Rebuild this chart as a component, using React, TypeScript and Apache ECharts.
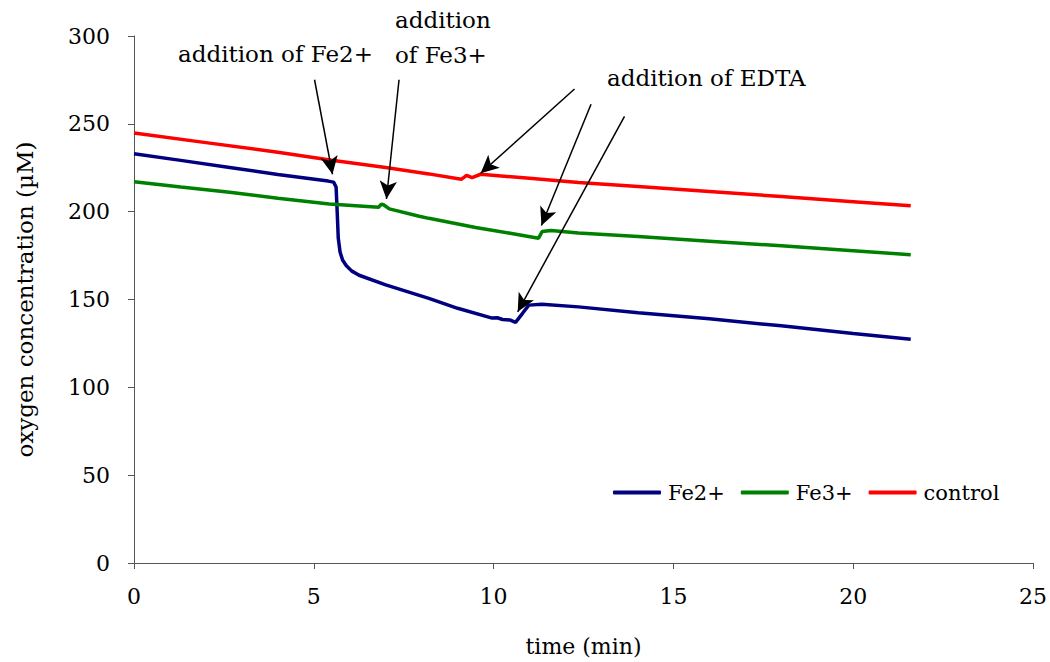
import React, { useEffect, useRef } from "react";
import * as echarts from "echarts";

const fe2Data: [number, number][] = [
  [0, 233], [1.3, 229.2], [2.66, 225.2], [4, 221.2], [5.4, 217.4], [5.55, 216.8],
  [5.62, 214], [5.65, 200], [5.68, 185], [5.73, 177], [5.8, 172.5], [5.9, 169.4],
  [6.05, 166.3], [6.26, 163.8], [7, 158.3], [8.2, 150.6], [9, 145], [9.96, 139.4],
  [10.1, 139.6], [10.25, 138.6], [10.45, 138.4], [10.61, 137], [10.8, 142],
  [10.98, 146.8], [11.34, 147.3], [12.36, 145.8], [14.02, 142.5], [16, 139],
  [18, 135], [20, 130.6], [21.6, 127.4]
];
const fe3Data: [number, number][] = [
  [0, 217], [1.3, 214], [2.66, 211], [4, 207.6], [5.43, 204.3], [6.8, 202.5],
  [6.88, 204.3], [6.95, 203.8], [7.1, 201.6], [7.93, 197.4], [8.2, 196.2],
  [9.5, 191], [10.5, 187.6], [11.25, 184.9], [11.3, 186.8], [11.35, 188.7],
  [11.6, 189.3], [12.36, 187.9], [14.02, 185.8], [16, 183.2], [18, 180.6],
  [20, 177.8], [21.6, 175.5]
];
const controlData: [number, number][] = [
  [0, 244.8], [2, 239.3], [4, 233.8], [5.5, 229.3], [7, 225.2], [8.2, 221.5],
  [9.1, 218.4], [9.25, 220.7], [9.4, 219.4], [9.64, 221.3], [11, 219], [12.36, 216.6],
  [14.02, 214.3], [16, 211.5], [18, 208.6], [20, 205.7], [21.6, 203.4]
];

const seriesNames = ["Fe2+", "Fe3+", "control"];
const seriesColors = ["#000080", "#008000", "#ff0000"];

// arrows: [fromTime, fromConc, toTime, toConc]
const arrows: [number, number, number, number][] = [
  [5.02, 275.1, 5.52, 221.3],
  [7.37, 275.1, 7.02, 207.2],
  [12.25, 269.8, 9.64, 221.9],
  [12.71, 261.1, 11.33, 192.1],
  [13.64, 254.3, 10.67, 143.0]
];

const xTicks = { min: 0, max: 25, interval: 5 };
const yTicks = { min: 0, max: 300, interval: 50 };

const FONT = "DejaVu Serif";

export default function App() {
  const ref = useRef<HTMLDivElement>(null);
  useEffect(() => {
    document.body.style.margin = "0";
    document.body.style.overflow = "hidden";
    const chart = echarts.init(ref.current!, null, { renderer: "svg", width: 1050, height: 662 });
    const textStyle = { fontFamily: FONT, fontSize: 22, color: "#000" };
    chart.setOption({
      animation: false,
      textStyle: { fontFamily: FONT },
      grid: { left: 134, right: 14, top: 36, bottom: 96 },
      xAxis: {
        type: "value",
        ...xTicks,
        name: "time (min)",
        nameLocation: "middle",
        nameGap: 72,
        nameTextStyle: { ...textStyle, fontSize: 22 },
        axisLine: { show: true, lineStyle: { color: "#555", width: 1 } },
        axisTick: { show: true, length: 6, lineStyle: { color: "#555" } },
        axisLabel: { ...textStyle, margin: 22 },
        splitLine: { show: false }
      },
      yAxis: {
        type: "value",
        ...yTicks,
        name: "oxygen concentration (µM)",
        nameLocation: "middle",
        nameGap: 98,
        nameTextStyle: { ...textStyle, fontSize: 23 },
        axisLine: { show: true, lineStyle: { color: "#555", width: 1 } },
        axisTick: { show: true, length: 6, lineStyle: { color: "#555" } },
        axisLabel: { ...textStyle, margin: 24 },
        splitLine: { show: false }
      },
      legend: {
        left: 608,
        top: 477,
        itemWidth: 48,
        itemHeight: 4,
        itemGap: 16,
        icon: "roundRect",
        textStyle: { ...textStyle, fontSize: 21, padding: [0, 0, 0, 2] },
        data: seriesNames
      },
      series: [
        { data: fe2Data },
        { data: fe3Data },
        { data: controlData }
      ].map((s, i) => ({
        name: seriesNames[i],
        type: "line",
        data: s.data,
        showSymbol: false,
        symbol: "none",
        color: seriesColors[i],
        lineStyle: { color: seriesColors[i], width: 3.5 },
        z: 2,
        ...(i === 2
          ? {
              markLine: {
                silent: true,
                symbol: ["none", "arrow"],
                symbolSize: [13, 18],
                label: { show: false },
                lineStyle: { color: "#000", width: 1.5, type: "solid" },
                itemStyle: { color: "#000" },
                z: 5,
                data: arrows.map((a) => [
                  { coord: [a[0], a[1]] },
                  { coord: [a[2], a[3]] }
                ])
              }
            }
          : {})
      })),
      graphic: [
        { type: "text", left: 178, top: 42, style: { text: "addition of Fe2+", font: `23px '${FONT}'`, fill: "#000" } },
        { type: "text", left: 395, top: 8, style: { text: "addition", font: `23px '${FONT}'`, fill: "#000" } },
        { type: "text", left: 395, top: 43, style: { text: "of Fe3+", font: `23px '${FONT}'`, fill: "#000" } },
        { type: "text", left: 607, top: 66, style: { text: "addition of EDTA", font: `23px '${FONT}'`, fill: "#000" } }
      ]
    });
    return () => chart.dispose();
  }, []);
  return (
    <div
      ref={ref}
      style={{ position: "absolute", left: 0, top: 0, width: 1050, height: 662 }}
    />
  );
}
